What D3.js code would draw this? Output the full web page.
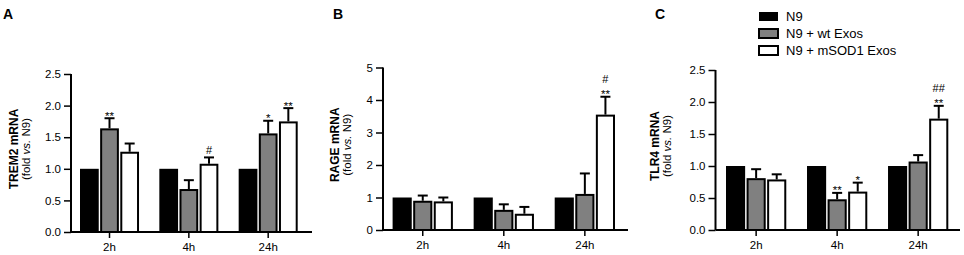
<!DOCTYPE html>
<html><head><meta charset="utf-8">
<script src="https://cdn.jsdelivr.net/npm/d3@7/dist/d3.min.js"></script>
<style>
html,body{margin:0;padding:0;background:#fff;}
svg{display:block;}
text{font-family:"Liberation Sans",Arial,Helvetica,sans-serif;fill:#000;}
</style></head>
<body>
<svg id="chart" width="964" height="255"></svg>
<script>
// ---- data ----
const categories = ["2h", "4h", "24h"];
const seriesNames = ["N9", "N9 + wt Exos", "N9 + mSOD1 Exos"];

const tremN9 = [1, 1, 1];
const tremWt = [1.64, 0.68, 1.56];
const tremWtErr = [0.16, 0.14, 0.20];
const tremMs = [1.27, 1.08, 1.75];
const tremMsErr = [0.13, 0.10, 0.21];
const tremTicks = [0, 0.5, 1.0, 1.5, 2.0, 2.5];
const tremMarks = [["", "**", ""], ["", "", "#"], ["", "*", "**"]];

const rageN9 = [1, 1, 1];
const rageWt = [0.90, 0.62, 1.11];
const rageWtErr = [0.16, 0.17, 0.63];
const rageMs = [0.88, 0.50, 3.55];
const rageMsErr = [0.12, 0.21, 0.55];
const rageTicks = [0, 1, 2, 3, 4, 5];
const rageMarks = [["", "", ""], ["", "", ""], ["", "", "#\n**"]];

const tlrN9 = [1, 1, 1];
const tlrWt = [0.81, 0.48, 1.07];
const tlrWtErr = [0.14, 0.10, 0.10];
const tlrMs = [0.79, 0.60, 1.74];
const tlrMsErr = [0.08, 0.14, 0.20];
const tlrTicks = [0, 0.5, 1.0, 1.5, 2.0, 2.5];
const tlrMarks = [["", "", ""], ["", "**", "*"], ["", "", "##\n**"]];

const fills = ["#000000", "#808080", "#ffffff"];

// ---- layout ----
const panels = [
  {letter:"A", gene:"TREM2 mRNA", n9:tremN9, wt:tremWt, wtE:tremWtErr, ms:tremMs, msE:tremMsErr, ticks:tremTicks, fmt:".1f", marks:tremMarks,
   ax:71, axEnd:312, b0:80, b1:297.7, yTop:74, yBot:232, lx:[13,25.5], letterX:3},
  {letter:"B", gene:"RAGE mRNA", n9:rageN9, wt:rageWt, wtE:rageWtErr, ms:rageMs, msE:rageMsErr, ticks:rageTicks, fmt:"d", marks:rageMarks,
   ax:383, axEnd:628, b0:392.6, b1:615, yTop:67.5, yBot:230, lx:[334,346.5], letterX:333},
  {letter:"C", gene:"TLR4 mRNA", n9:tlrN9, wt:tlrWt, wtE:tlrWtErr, ms:tlrMs, msE:tlrMsErr, ticks:tlrTicks, fmt:".1f", marks:tlrMarks,
   ax:715.5, axEnd:960, b0:726, b1:948.3, yTop:70, yBot:230, lx:[654.5,667], letterX:655}
];

const svg = d3.select("#chart");

panels.forEach(p => {
  const g = svg.append("g");
  const yMax = p.ticks[p.ticks.length - 1];
  const y = d3.scaleLinear().domain([0, yMax]).range([p.yBot, p.yTop]);
  const x = d3.scaleBand().domain(categories).range([p.b0, p.b1]).paddingInner(0.256).paddingOuter(0);
  const xs = d3.scaleBand().domain([0,1,2]).range([0, x.bandwidth()]).paddingInner(0.07);

  const vals = [p.n9, p.wt, p.ms];
  const errs = [null, p.wtE, p.msE];

  categories.forEach((c, ci) => {
    [0,1,2].forEach(si => {
      const v = vals[si][ci];
      const x0 = x(c) + xs(si);
      const w = xs.bandwidth();
      const sw = si === 0 ? 0 : 2;
      if (errs[si]) {
        const top = v + errs[si][ci];
        const cx = x0 + w / 2;
        g.append("line").attr("x1", cx).attr("x2", cx).attr("y1", y(v)).attr("y2", y(top))
          .attr("stroke", "#000").attr("stroke-width", 2);
        g.append("line").attr("x1", cx - 5).attr("x2", cx + 5).attr("y1", y(top)).attr("y2", y(top))
          .attr("stroke", "#000").attr("stroke-width", 2);
        const m = p.marks[ci][si];
        if (m) {
          const lines = m.split("\n").reverse();
          lines.forEach((t, li) => {
            const isStar = t.indexOf("*") >= 0;
            g.append("text").attr("x", cx).attr("y", y(top) - (isStar ? -1.5 : 3) - li * 11)
              .attr("text-anchor", "middle").style("font-size", isStar ? "11.5px" : "11px").text(t);
          });
        }
      }
      g.append("rect")
        .attr("x", x0 + sw / 2).attr("y", y(v) + sw / 2)
        .attr("width", w - sw).attr("height", y(0) - y(v) - sw / 2)
        .attr("fill", fills[si]).attr("stroke", "#000").attr("stroke-width", sw);
    });
  });

  // y axis
  const yAxis = d3.axisLeft(y).tickValues(p.ticks).tickFormat(d3.format(p.fmt)).tickSize(7).tickPadding(3);
  const ya = g.append("g").attr("transform", `translate(${p.ax},0)`).call(yAxis);
  ya.select(".domain").attr("stroke-width", 2).attr("d", `M0,${p.yTop}V${p.yBot}`);
  ya.selectAll(".tick line").attr("stroke-width", 1.5);
  ya.selectAll(".tick text").style("font-size", "11.5px").style("font-family", '"Liberation Sans",Arial,sans-serif');

  // x axis
  const xAxis = d3.axisBottom(x).tickSize(6).tickPadding(5).tickSizeOuter(0);
  const xa = g.append("g").attr("transform", `translate(0,${p.yBot})`).call(xAxis);
  xa.select(".domain").attr("stroke-width", 2).attr("d", `M${p.ax},0H${p.axEnd}`);
  xa.selectAll(".tick line").attr("stroke-width", 1.5);
  xa.selectAll(".tick text").style("font-size", "11.5px").style("font-family", '"Liberation Sans",Arial,sans-serif');

  // y label
  const cy = (p.yTop + p.yBot) / 2 - 4;
  g.append("text").attr("transform", `translate(${p.lx[0] + 4.5},${cy}) rotate(-90)`)
    .attr("text-anchor", "middle").style("font-size", "12px").style("font-weight", "bold").text(p.gene);
  const t2 = g.append("text").attr("transform", `translate(${p.lx[1] + 4},${cy}) rotate(-90)`)
    .attr("text-anchor", "middle").style("font-size", "11.5px");
  t2.append("tspan").text("(fold ");
  t2.append("tspan").style("font-style", "italic").text("vs.");
  t2.append("tspan").text(" N9)");

  g.append("text").attr("x", p.letterX).attr("y", 19).style("font-size", "14px").style("font-weight", "bold").text(p.letter);
});

// legend
const lg = svg.append("g");
seriesNames.forEach((s, i) => {
  const yy = 16.5 + i * 17;
  lg.append("rect").attr("x", 759).attr("y", yy - 4.5).attr("width", 19).attr("height", 9)
    .attr("fill", fills[i]).attr("stroke", "#000").attr("stroke-width", i === 0 ? 0 : 2);
  lg.append("text").attr("x", 786).attr("y", yy + 4.5).style("font-size", "13px").text(s);
});
</script>
</body></html>
